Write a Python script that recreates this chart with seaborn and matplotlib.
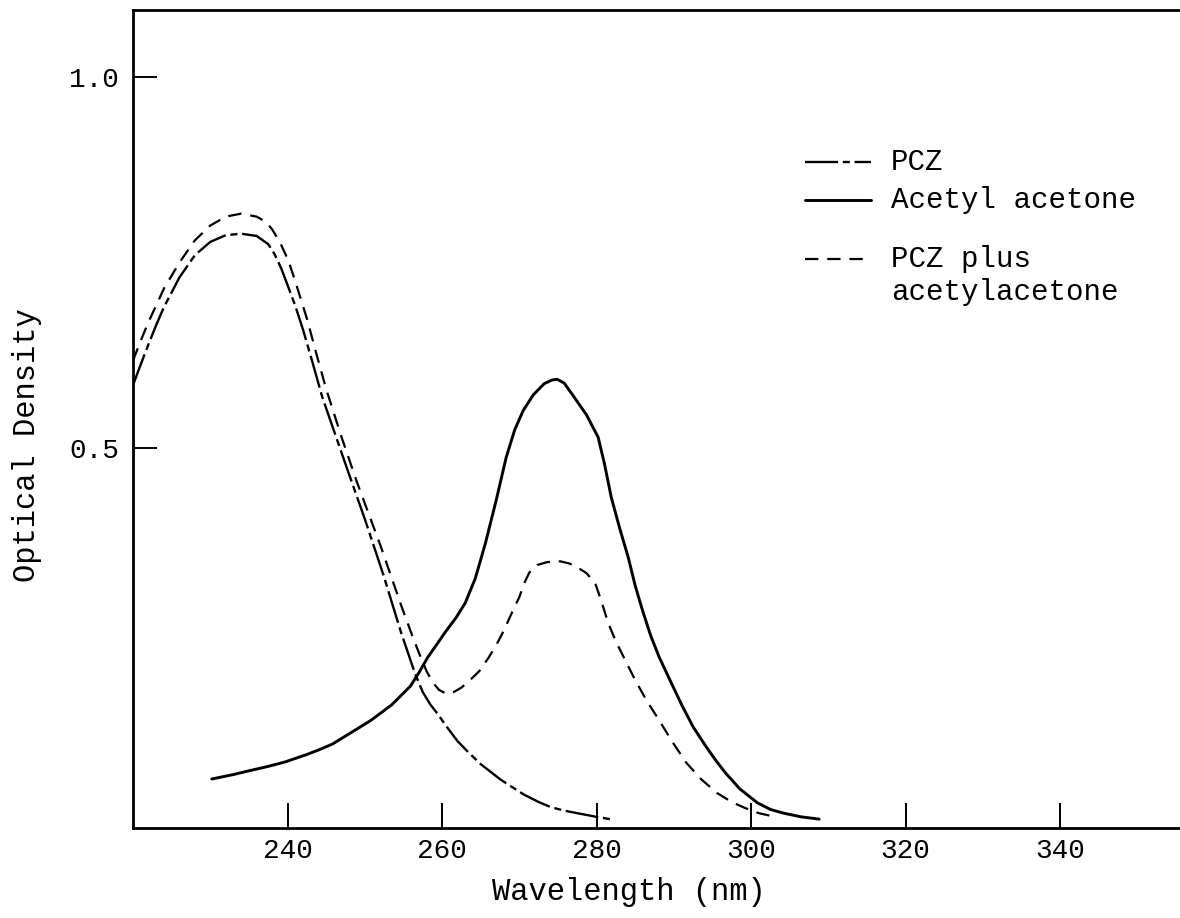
"""Absorption spectra of PCZ, acetyl acetone and their mixture."""
import matplotlib.pyplot as plt
import pandas as pd
import seaborn as sns
from matplotlib.lines import Line2D

# values (wavelength in nm, optical density)
pcz_nm = [220.0, 221.0, 222.0, 223.0, 224.0, 226.0, 228.0, 230.0, 232.0, 234.0, 236.0,
          237.5, 238.3, 239.2, 240.0, 241.0, 242.0, 243.2, 244.5, 246.0, 247.8, 250.0,
          252.4, 254.7, 256.5, 257.5, 258.5, 259.4, 260.7, 262.0, 263.5, 265.0, 267.6,
          270.6, 272.5, 274.1, 276.0, 278.0, 280.0, 282.3]
pcz_od = [0.585, 0.613, 0.640, 0.666, 0.690, 0.730, 0.760, 0.778, 0.787, 0.789, 0.786,
          0.775, 0.762, 0.742, 0.720, 0.692, 0.660, 0.617, 0.569, 0.524, 0.470, 0.405,
          0.330, 0.252, 0.197, 0.172, 0.155, 0.143, 0.124, 0.106, 0.090, 0.075, 0.054,
          0.034, 0.024, 0.017, 0.012, 0.008, 0.004, 0.000]

acac_nm = [230.2, 233.0, 235.0, 237.5, 239.7, 242.5, 244.0, 245.8, 248.0, 250.8, 253.5,
           255.9, 257.0, 258.1, 259.3, 260.5, 261.8, 263.0, 264.3, 265.6, 267.0, 268.3,
           269.4, 270.5, 271.8, 273.2, 274.2, 274.9, 275.8, 277.1, 278.7, 280.2, 281.0,
           281.9, 283.0, 284.1, 285.0, 286.0, 287.0, 288.1, 289.5, 291.0, 292.5, 294.2,
           295.5, 296.7, 298.5, 300.8, 302.5, 304.2, 306.5, 308.8]
acac_od = [0.055, 0.061, 0.066, 0.072, 0.078, 0.088, 0.094, 0.102, 0.116, 0.134, 0.155,
           0.180, 0.198, 0.218, 0.236, 0.254, 0.272, 0.292, 0.325, 0.372, 0.430, 0.488,
           0.525, 0.551, 0.572, 0.587, 0.592, 0.593, 0.588, 0.569, 0.545, 0.515, 0.480,
           0.434, 0.392, 0.353, 0.315, 0.280, 0.248, 0.219, 0.188, 0.155, 0.125, 0.098,
           0.079, 0.063, 0.042, 0.023, 0.014, 0.009, 0.004, 0.001]

mix_nm = [220.0, 221.0, 222.0, 224.0, 226.0, 228.0, 230.0, 232.0, 234.0, 236.0, 237.2,
          238.0, 239.0, 240.1, 241.0, 241.6, 242.5, 243.8, 245.0, 247.0, 248.9, 250.5,
          252.0, 253.5, 254.8, 256.0, 257.0, 258.0, 258.8, 259.6, 260.5, 261.5, 262.5,
          263.5, 264.8, 266.0, 267.0, 268.0, 269.0, 270.0, 270.7, 271.3, 272.3, 273.6,
          275.3, 276.5, 277.5, 278.7, 279.8, 280.6, 281.5, 282.5, 283.7, 285.0, 286.5,
          288.1, 289.8, 291.6, 293.5, 295.6, 297.5, 299.2, 301.0, 302.7]
mix_od = [0.618, 0.645, 0.670, 0.715, 0.750, 0.780, 0.800, 0.812, 0.816, 0.812, 0.805,
          0.795, 0.778, 0.753, 0.725, 0.705, 0.675, 0.625, 0.580, 0.515, 0.457, 0.412,
          0.370, 0.325, 0.286, 0.252, 0.225, 0.200, 0.185, 0.175, 0.170, 0.172, 0.178,
          0.187, 0.200, 0.218, 0.235, 0.255, 0.278, 0.300, 0.320, 0.333, 0.343, 0.347,
          0.348, 0.345, 0.340, 0.332, 0.319, 0.295, 0.265, 0.240, 0.215, 0.188, 0.160,
          0.134, 0.105, 0.077, 0.055, 0.036, 0.024, 0.016, 0.009, 0.005]

labels = ["PCZ", "Acetyl acetone", "PCZ plus\nacetylacetone"]
x_ticks = [240, 260, 280, 300, 320, 340]
y_ticks = [0.5, 1.0]
y_tick_labels = ["0.5", "1.0"]


def main() -> None:
    sns.set_style("white")
    plt.rcParams["font.family"] = ["Liberation Mono", "DejaVu Sans Mono"]
    plt.rcParams["text.color"] = "black"
    plt.rcParams["axes.labelcolor"] = "black"

    df = pd.concat([
        pd.DataFrame({"nm": pcz_nm, "od": pcz_od, "series": labels[0]}),
        pd.DataFrame({"nm": acac_nm, "od": acac_od, "series": labels[1]}),
        pd.DataFrame({"nm": mix_nm, "od": mix_od, "series": labels[2]}),
    ])

    fig = plt.figure(figsize=(11.8, 9.18), dpi=100)
    ax = fig.add_axes([0.1127, 0.098, 0.8873, 0.891])

    styles = {
        labels[0]: dict(lw=1.7, dashes=(14, 2, 3, 2)),
        labels[1]: dict(lw=2.1, dashes=None),
        labels[2]: dict(lw=1.6, dashes=(6, 4)),
    }
    for name, st in styles.items():
        sub = df[df["series"] == name]
        sns.lineplot(data=sub, x="nm", y="od", ax=ax, color="black", lw=st["lw"],
                     sort=False, estimator=None, legend=False)
        if st["dashes"]:
            ax.get_lines()[-1].set_dashes(st["dashes"])

    ax.set_xlim(220, 355.5)
    ax.set_ylim(-0.011, 1.09)
    ax.set_xticks(x_ticks)
    ax.set_xticklabels([str(t) for t in x_ticks])
    ax.set_yticks(y_ticks)
    ax.set_yticklabels(y_tick_labels)
    ax.tick_params(axis="both", direction="in", width=1.4, labelsize=20,
                   colors="black", bottom=True, left=True)
    ax.tick_params(axis="x", length=18, pad=7)
    ax.tick_params(axis="y", length=17, pad=10)
    for side in ["left", "bottom", "top"]:
        ax.spines[side].set_color("black")
        ax.spines[side].set_linewidth(2)
    ax.spines["right"].set_visible(False)

    ax.set_xlabel("Wavelength (nm)", fontsize=22)
    ax.set_ylabel("Optical Density", fontsize=22)
    ax.xaxis.set_label_coords(0.474, -0.06)
    ax.yaxis.set_label_coords(-0.087, 0.468)

    # hand-made key, to keep the uneven spacing of the original
    key_y = [0.814, 0.768, 0.696]
    for (name, st), yy in zip(styles.items(), key_y):
        ln = Line2D([0.642, 0.705], [yy, yy], transform=ax.transAxes,
                    color="black", lw=st["lw"])
        if st["dashes"]:
            ln.set_dashes(st["dashes"])
        ax.add_line(ln)
        if "\n" in name:
            ax.text(0.724, yy + 0.017, name, transform=ax.transAxes, fontsize=21,
                    va="top", ha="left", linespacing=1.25)
        else:
            ax.text(0.724, yy, name, transform=ax.transAxes, fontsize=21,
                    va="center", ha="left")

    fig.savefig("out.png", dpi=100)
    plt.close(fig)


if __name__ == "__main__":
    main()
